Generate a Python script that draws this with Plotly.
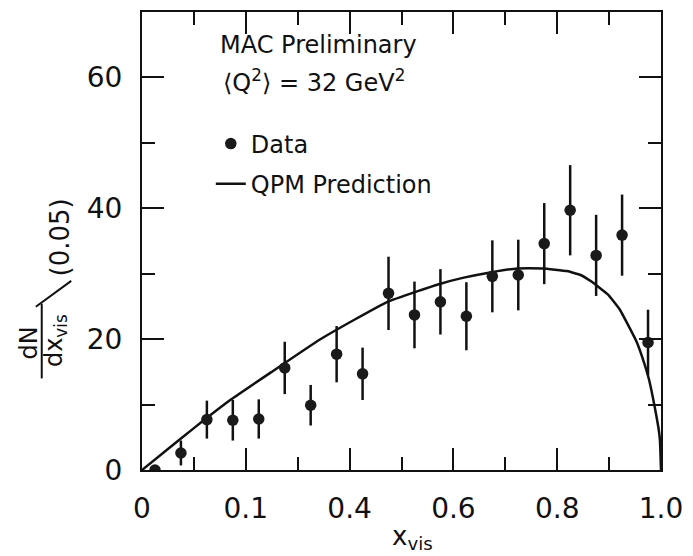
import plotly.graph_objects as go

# ---- data ----
x_bins = [0.025, 0.075, 0.125, 0.175, 0.225, 0.275, 0.325, 0.375, 0.425, 0.475,
          0.525, 0.575, 0.625, 0.675, 0.725, 0.775, 0.825, 0.875, 0.925, 0.975]
y_data = [0.0, 2.6, 7.7, 7.6, 7.8, 15.6, 9.9, 17.7, 14.7, 27.0,
          23.7, 25.7, 23.5, 29.6, 29.8, 34.6, 39.7, 32.8, 35.9, 19.5]
y_err = [0.0, 1.9, 2.9, 3.1, 3.0, 4.0, 3.1, 4.3, 4.0, 5.6,
         5.1, 5.0, 5.2, 5.5, 5.4, 6.2, 6.9, 6.2, 6.2, 5.0]

x_qpm = [0.0, 0.05, 0.10, 0.172, 0.25, 0.342, 0.41, 0.473, 0.53, 0.572,
         0.62, 0.671, 0.723, 0.772, 0.819, 0.845, 0.866, 0.898, 0.92,
         0.937, 0.953, 0.964, 0.977, 0.988, 0.995, 0.998, 1.0]
y_qpm = [0.0, 3.2, 6.4, 10.8, 15.0, 19.9, 23.0, 25.7, 27.3, 28.4,
         29.4, 30.2, 30.8, 30.8, 30.4, 29.8, 28.8, 26.8, 24.6,
         22.1, 19.6, 17.2, 13.8, 9.6, 6.5, 4.5, 0.0]

x_tickvals = [0.0, 0.2, 0.4, 0.6, 0.8, 1.0]
x_ticktext = ["0", "0.1", "0.4", "0.6", "0.8", "1.0"]
x_minor = [0.1, 0.3, 0.5, 0.7, 0.9]
y_tickvals = [0, 20, 40, 60]
y_ticktext = ["0", "20", "40", "60"]
y_minor = [10, 30, 50]

FONT = "DejaVu Sans"
INK = "#111111"

# plot area in pixels
W, H = 693, 556
L, R, T, B = 142, 23, 10, 86
PW, PH = W - L - R, H - T - B


def px(x):
    return (x - L) / PW


def py(y):
    return (H - B - y) / PH


fig = go.Figure()
fig.add_trace(go.Scatter(
    x=x_qpm, y=y_qpm, mode="lines", name="QPM Prediction",
    line=dict(color=INK, width=2.5, shape="spline", smoothing=0.3),
    legendgroup="b", legendrank=2,
))
fig.add_trace(go.Scatter(
    x=x_bins, y=y_data, mode="markers", name="Data",
    marker=dict(color="#1a1a1a", size=11.5),
    error_y=dict(type="data", array=y_err, visible=True, width=0,
                 thickness=2.5, color=INK),
    legendgroup="a", legendrank=1,
))

axis_common = dict(
    showline=True, linewidth=2, linecolor=INK, mirror="ticks",
    ticks="inside", ticklen=22, tickwidth=2, tickcolor=INK,
    showgrid=False, zeroline=False,
    tickfont=dict(family=FONT, size=28, color=INK),
)

fig.update_xaxes(
    range=[0, 1], tickmode="array", tickvals=x_tickvals, ticktext=x_ticktext,
    minor=dict(tickmode="array", tickvals=x_minor, ticks="inside",
               ticklen=13, tickwidth=2, tickcolor=INK),
    ticklabelstandoff=12,
    **axis_common,
)
fig.update_yaxes(
    range=[0, 70], tickmode="array", tickvals=y_tickvals, ticktext=y_ticktext,
    minor=dict(tickmode="array", tickvals=y_minor, ticks="inside",
               ticklen=13, tickwidth=2, tickcolor=INK),
    ticklabelstandoff=12,
    **axis_common,
)

ann_font = dict(family=FONT, size=24, color=INK)


def ann(text, x, y, **kw):
    d = dict(text=text, x=px(x), y=py(y), xref="paper", yref="paper",
             showarrow=False, xanchor="center", yanchor="middle", font=ann_font)
    d.update(kw)
    return d


annotations = [
    ann("x<sub>vis</sub>", 417, 538, font=dict(family=FONT, size=26, color=INK)),
    ann("dN", 27, 342, textangle=-90),
    ann("dx<sub>vis</sub>", 54, 340, textangle=-90),
    ann("(0.05)", 59, 236, textangle=-90, font=dict(family=FONT, size=26, color=INK)),
    ann("MAC Preliminary", 219, 43, xanchor="left"),
    ann("⟨Q<sup>2</sup>⟩ = 32 GeV<sup>2</sup>", 222, 79, xanchor="left"),
]

shapes = [
    dict(type="line", xref="paper", yref="paper", x0=px(40), x1=px(40),
         y0=py(303), y1=py(378), line=dict(color=INK, width=2)),
    dict(type="line", xref="paper", yref="paper", x0=px(34), x1=px(70),
         y0=py(306), y1=py(280), line=dict(color=INK, width=2)),
]

fig.update_layout(
    width=W, height=H,
    margin=dict(l=L, r=R, t=T, b=B),
    paper_bgcolor="white", plot_bgcolor="white",
    font=dict(family=FONT, color=INK),
    annotations=annotations, shapes=shapes,
    showlegend=True,
    legend=dict(
        x=px(212), y=py(120), xanchor="left", yanchor="top",
        bgcolor="rgba(0,0,0,0)", borderwidth=0,
        font=dict(family=FONT, size=24, color=INK),
        traceorder="grouped", tracegroupgap=6, itemwidth=30,
    ),
)

fig.write_html("out.html")
